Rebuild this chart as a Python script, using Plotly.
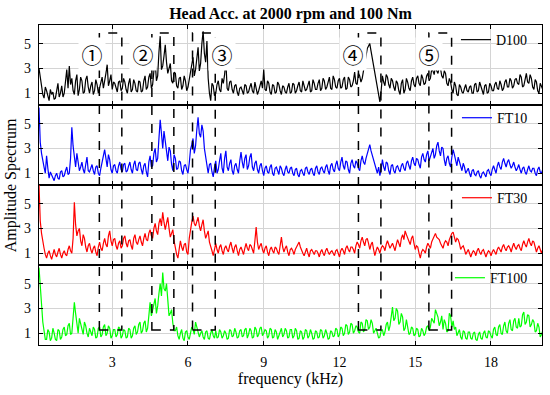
import plotly.graph_objects as go
from plotly.subplots import make_subplots

# frequency grid (kHz), 0.05 kHz sampling of the read-off spectra
freq_khz = [round(0.05 * k, 2) for k in range(2, 402)]

# values read at 0.1, 0.2, ... kHz
d100 = [
    3.0, 1.8, 0.6, 1.2, 0.4, 0.9, 0.5, 1.4, 0.7, 1.6,
    1.0, 2.9, 3.2, 2.2, 0.9, 2.5, 1.3, 2.0, 1.1, 2.4,
    1.0, 1.9, 1.2, 1.7, 1.4, 2.3, 1.9, 3.3, 2.0, 1.3,
    1.8, 1.1, 2.0, 1.4, 1.9, 1.0, 2.2, 1.3, 1.8, 1.1,
    1.9, 1.2, 2.4, 1.5, 2.6, 1.7, 3.6, 2.4, 5.6, 3.2,
    4.9, 2.6, 3.4, 1.8, 2.6, 1.4, 2.3, 1.6, 2.0, 1.5,
    2.8, 3.9, 2.9, 4.7, 3.4, 6.0, 3.5, 2.2, 0.4, 1.6,
    1.0, 2.0, 1.1, 1.8, 3.6, 1.2, 2.0, 1.0, 1.7, 0.8,
    1.5, 0.9, 1.6, 1.1, 1.8, 1.0, 1.5, 1.2, 2.0, 2.9,
    1.2, 1.8, 0.9, 1.6, 1.1, 1.7, 0.9, 1.5, 1.0, 1.8,
    1.1, 1.7, 1.2, 1.9, 1.1, 1.6, 1.3, 2.0, 1.2, 1.8,
    1.3, 2.1, 1.4, 2.0, 1.5, 2.3, 1.3, 2.1, 1.4, 2.2,
    1.5, 2.3, 1.4, 2.1, 1.6, 2.7, 1.7, 2.4, 2.2, 3.5,
    4.6, 5.0, 3.8, 2.6, 1.5, 0.3, 2.4, 1.6, 2.3, 1.4,
    2.0, 1.2, 1.8, 0.9, 2.1, 1.3, 1.9, 1.2, 2.3, 1.5,
    2.4, 1.6, 2.2, 1.8, 2.6, 2.2, 2.8, 3.2, 2.6, 3.0,
    2.2, 2.6, 1.6, 1.9, 1.0, 1.6, 0.8, 1.5, 1.0, 1.7,
    1.1, 1.6, 1.0, 1.8, 1.2, 1.5, 0.9, 1.7, 1.1, 1.6,
    1.2, 1.9, 1.3, 1.7, 1.4, 2.1, 1.5, 2.0, 1.6, 2.2,
    1.7, 2.3, 1.6, 2.6, 1.8, 2.2, 1.3, 1.9, 1.0, 1.6,
]
# values read at 0.15, 0.25, ... kHz
d100_mid = [
    2.2, 0.9, 1.5, 0.7, 1.3, 1.1, 0.6, 1.8, 1.0, 0.7,
    2.0, 1.4, 1.7, 1.2, 2.0, 0.8, 2.3, 1.0, 2.1, 1.5,
    1.6, 0.9, 2.1, 1.0, 1.7, 1.4, 2.6, 1.6, 2.5, 1.9,
    1.3, 1.9, 1.2, 2.2, 1.3, 1.8, 1.1, 2.1, 1.2, 2.0,
    1.1, 2.0, 1.3, 2.3, 1.4, 2.8, 2.0, 4.3, 2.9, 4.0,
    3.5, 3.0, 2.0, 2.7, 1.6, 2.2, 1.3, 2.4, 1.2, 2.1,
    3.6, 2.4, 3.8, 2.8, 5.0, 4.2, 5.2, 1.0, 1.8, 0.8,
    1.7, 1.3, 2.2, 2.5, 1.4, 1.9, 1.3, 1.6, 1.1, 1.4,
    1.2, 1.7, 1.0, 1.5, 1.2, 1.9, 0.9, 1.7, 1.4, 1.3,
    2.0, 1.1, 1.7, 1.0, 1.9, 1.2, 1.6, 1.1, 1.5, 1.0,
    1.8, 1.0, 1.6, 1.2, 2.0, 1.2, 1.7, 1.1, 2.1, 1.3,
    1.8, 1.2, 2.2, 1.3, 1.9, 1.4, 2.4, 1.5, 2.0, 1.4,
    2.1, 1.3, 2.3, 1.5, 2.0, 1.8, 2.6, 1.9, 2.8, 4.0,
    4.8, 4.4, 3.2, 2.0, 0.8, 1.2, 1.9, 2.5, 1.7, 2.2,
    1.5, 2.0, 1.2, 1.8, 1.0, 2.2, 1.4, 2.0, 1.7, 2.2,
    1.8, 2.5, 1.7, 2.4, 2.0, 2.9, 2.5, 2.8, 3.1, 2.4,
    2.8, 1.8, 2.2, 1.3, 1.9, 0.9, 1.7, 1.1, 1.4, 1.2,
    1.5, 1.0, 1.7, 1.1, 1.9, 1.1, 1.6, 1.0, 1.8, 1.2,
    1.7, 1.4, 2.0, 1.2, 1.9, 1.5, 2.2, 1.4, 2.1, 1.8,
    2.5, 1.5, 2.1, 1.9, 2.5, 1.5, 2.1, 1.2, 1.8, 1.3,
]

ft10 = [
    6.3, 2.6, 1.5, 2.4, 0.6, 0.9, 0.4, 1.0, 0.5, 1.2,
    0.8, 1.5, 1.0, 4.7, 2.2, 2.6, 1.2, 1.9, 1.0, 2.3,
    1.1, 1.7, 0.9, 1.6, 0.8, 1.9, 2.9, 1.5, 2.1, 1.0,
    1.7, 1.0, 1.9, 1.1, 1.8, 1.2, 1.9, 1.0, 2.0, 1.2,
    1.9, 0.9, 1.8, 0.7, 2.4, 1.6, 3.0, 2.2, 5.3, 3.0,
    3.6, 2.0, 2.8, 1.2, 2.2, 1.4, 1.9, 0.9, 1.7, 1.0,
    2.9, 3.8, 3.2, 5.5, 3.9, 4.4, 2.2, 1.0, 1.8, 0.7,
    2.0, 1.3, 2.6, 1.0, 2.8, 1.2, 2.1, 0.9, 1.8, 1.0,
    2.7, 1.4, 2.5, 1.6, 2.6, 1.2, 2.0, 1.0, 1.8, 0.8,
    1.6, 1.0, 1.7, 0.8, 1.5, 0.9, 1.4, 0.8, 1.6, 1.0,
    1.5, 0.8, 1.4, 0.7, 1.3, 0.8, 1.5, 0.9, 1.4, 0.8,
    1.6, 0.9, 1.5, 1.0, 1.7, 0.9, 1.8, 1.1, 2.0, 1.2,
    2.3, 1.3, 1.9, 1.0, 2.1, 1.4, 1.8, 1.2, 2.4, 1.7,
    2.6, 3.3, 2.4, 1.6, 1.0, 0.8, 2.1, 1.2, 1.8, 0.9,
    1.7, 1.0, 1.6, 1.1, 1.8, 1.2, 2.0, 1.3, 2.3, 1.6,
    2.1, 1.4, 2.6, 1.9, 2.8, 2.3, 3.0, 2.5, 3.5, 2.4,
    3.0, 1.6, 2.4, 1.5, 2.9, 2.0, 2.3, 1.4, 1.8, 1.0,
    1.4, 0.7, 1.3, 0.8, 1.2, 0.6, 1.1, 0.7, 1.3, 0.8,
    1.6, 1.0, 1.9, 1.3, 2.2, 1.5, 2.1, 1.4, 1.9, 1.2,
    1.7, 1.0, 1.5, 0.9, 1.6, 1.1, 1.4, 0.8, 1.5, 1.0,
]
ft10_mid = [
    3.5, 1.9, 1.0, 1.4, 1.1, 0.6, 0.8, 0.6, 1.1, 0.7,
    1.2, 0.9, 2.2, 3.2, 1.5, 1.8, 1.5, 1.3, 1.7, 1.2,
    1.4, 1.2, 1.5, 1.0, 1.4, 2.2, 2.2, 2.5, 1.3, 1.6,
    1.2, 1.6, 1.3, 1.7, 1.1, 1.6, 1.3, 1.7, 1.3, 1.8,
    1.3, 1.6, 1.1, 1.9, 1.5, 2.6, 1.9, 3.8, 4.2, 4.4,
    2.5, 3.1, 1.7, 2.5, 1.3, 2.0, 1.2, 1.6, 1.3, 1.8,
    3.3, 2.6, 4.5, 4.2, 4.9, 3.0, 1.4, 1.7, 1.1, 1.5,
    1.0, 2.0, 1.4, 2.2, 1.5, 1.8, 1.2, 1.6, 1.3, 2.0,
    1.9, 2.2, 1.3, 2.3, 1.5, 1.8, 1.3, 1.6, 1.2, 1.4,
    1.1, 1.5, 1.0, 1.4, 1.2, 1.6, 1.0, 1.3, 1.1, 1.4,
    1.0, 1.3, 0.9, 1.2, 1.0, 1.4, 1.1, 1.3, 1.0, 1.4,
    1.1, 1.4, 1.2, 1.5, 1.2, 1.6, 1.3, 1.7, 1.4, 1.9,
    1.6, 2.0, 1.3, 1.8, 1.6, 2.0, 1.4, 2.0, 1.9, 2.2,
    3.0, 2.8, 2.0, 1.2, 1.5, 1.3, 1.5, 1.9, 1.2, 1.6,
    1.2, 1.5, 1.3, 1.6, 1.4, 1.8, 1.6, 2.0, 1.8, 2.2,
    1.7, 2.3, 2.1, 2.5, 2.0, 2.7, 2.2, 3.2, 2.8, 3.1,
    2.1, 2.2, 1.8, 2.3, 2.5, 1.6, 1.9, 1.2, 1.5, 1.2,
    1.0, 1.2, 0.9, 1.1, 0.8, 1.0, 0.9, 1.2, 1.0, 1.3,
    1.3, 1.6, 1.5, 1.9, 1.8, 1.9, 1.7, 1.6, 1.5, 1.4,
    1.3, 1.4, 1.1, 1.3, 1.2, 1.4, 1.0, 1.3, 1.1, 1.3,
]

ft30 = [
    6.5, 2.6, 1.4, 0.6, 1.2, 0.5, 1.3, 0.7, 1.4, 0.6,
    1.2, 0.8, 1.6, 1.0, 5.1, 2.4, 3.0, 1.6, 2.2, 1.1,
    1.8, 1.0, 1.6, 0.8, 1.9, 1.2, 2.2, 1.5, 2.8, 1.6,
    2.2, 1.3, 2.0, 1.6, 2.4, 1.5, 2.1, 1.3, 2.5, 1.7,
    2.4, 1.6, 2.6, 2.0, 2.9, 2.2, 3.4, 2.5, 3.8, 4.3,
    2.9, 3.9, 2.3, 2.9, 1.4, 0.6, 2.0, 1.2, 1.8, 0.9,
    3.0, 4.0, 3.2, 3.9, 2.8, 3.7, 2.2, 2.8, 1.4, 0.8,
    1.8, 1.0, 1.7, 0.9, 1.6, 1.1, 1.9, 1.0, 1.7, 0.8,
    1.5, 0.9, 1.8, 1.2, 1.6, 1.0, 3.1, 1.3, 1.8, 1.0,
    1.6, 0.8, 1.5, 1.0, 1.4, 0.9, 2.3, 1.1, 1.6, 0.8,
    1.4, 0.9, 1.5, 1.9, 1.2, 0.8, 1.4, 0.7, 1.3, 0.9,
    1.2, 0.7, 1.3, 0.8, 1.4, 0.9, 1.2, 0.8, 1.3, 0.7,
    1.4, 0.9, 1.6, 1.1, 1.5, 1.0, 1.9, 1.4, 2.3, 1.6,
    2.2, 1.3, 1.9, 0.8, 1.5, 1.0, 1.6, 1.2, 2.0, 1.4,
    1.8, 1.2, 2.1, 1.5, 2.5, 2.8, 2.2, 1.7, 2.4, 1.3,
    1.5, 0.6, 1.3, 1.0, 1.8, 1.4, 2.1, 2.6, 2.2, 1.8,
    1.4, 2.0, 1.6, 2.4, 2.7, 1.9, 2.1, 1.3, 1.6, 0.9,
    1.3, 0.7, 1.2, 0.8, 1.4, 0.9, 1.3, 0.7, 1.2, 0.8,
    1.3, 0.9, 1.5, 1.1, 1.7, 1.2, 1.6, 1.1, 1.8, 1.3,
    1.7, 1.2, 2.0, 1.5, 2.2, 1.6, 1.9, 1.1, 1.6, 1.0,
]
ft30_mid = [
    3.6, 1.8, 0.9, 1.0, 0.8, 0.9, 0.9, 1.1, 0.9, 1.0,
    0.9, 1.3, 1.2, 2.2, 3.3, 2.8, 2.0, 2.5, 1.5, 1.6,
    1.3, 1.4, 1.1, 1.5, 1.4, 1.8, 1.7, 2.4, 2.0, 2.1,
    1.6, 1.8, 1.4, 2.2, 1.8, 2.0, 1.6, 2.2, 1.9, 2.1,
    1.9, 2.2, 2.1, 2.6, 2.4, 3.0, 2.8, 3.4, 3.2, 3.5,
    3.4, 3.0, 2.6, 2.0, 0.9, 1.4, 1.5, 1.7, 1.1, 2.2,
    3.5, 3.4, 3.6, 3.2, 3.3, 2.8, 2.5, 1.9, 1.2, 1.4,
    1.3, 1.5, 1.2, 1.4, 1.3, 1.6, 1.4, 1.5, 1.2, 1.3,
    1.2, 1.4, 1.4, 1.7, 1.3, 2.0, 1.9, 1.6, 1.3, 1.4,
    1.1, 1.3, 1.2, 1.5, 1.1, 1.6, 1.5, 1.4, 1.1, 1.3,
    1.2, 1.3, 1.6, 1.5, 1.0, 1.2, 1.0, 1.2, 1.1, 1.2,
    1.0, 1.1, 1.0, 1.2, 1.1, 1.1, 1.0, 1.2, 1.0, 1.2,
    1.2, 1.4, 1.3, 1.5, 1.3, 1.6, 1.7, 2.0, 1.9, 2.1,
    1.8, 1.7, 1.3, 1.2, 1.3, 1.4, 1.5, 1.7, 1.7, 1.6,
    1.5, 1.7, 1.8, 2.2, 2.1, 2.5, 1.9, 2.2, 1.8, 1.6,
    1.0, 1.1, 1.2, 1.5, 1.6, 1.9, 2.4, 2.3, 2.1, 1.6,
    1.8, 1.9, 2.1, 2.6, 2.3, 2.2, 1.8, 1.5, 1.3, 1.1,
    1.0, 1.0, 1.1, 1.2, 1.1, 1.2, 1.0, 1.0, 1.1, 1.1,
    1.1, 1.3, 1.3, 1.5, 1.4, 1.5, 1.4, 1.5, 1.5, 1.6,
    1.4, 1.7, 1.7, 1.9, 1.8, 2.0, 1.5, 1.4, 1.3, 1.3,
]

ft100 = [
    6.3, 3.0, 1.2, 0.5, 1.1, 0.6, 1.0, 0.4, 1.2, 0.7,
    1.5, 0.9, 1.8, 1.0, 3.5, 1.6, 2.2, 1.2, 1.9, 1.0,
    1.4, 0.8, 1.3, 0.7, 1.5, 0.9, 1.7, 1.0, 1.4, 0.8,
    1.3, 0.9, 1.4, 0.8, 1.2, 0.7, 1.3, 0.8, 1.6, 1.1,
    1.9, 1.2, 2.0, 1.4, 3.5, 2.8, 3.8, 3.2, 5.0, 5.9,
    4.4, 3.4, 2.6, 1.8, 1.2, 0.8, 1.0, 0.6, 1.1, 0.7,
    1.0, 1.3, 1.9, 1.2, 1.0, 0.7, 1.1, 0.6, 1.0, 0.8,
    1.2, 0.7, 1.1, 0.8, 1.0, 0.6, 1.2, 0.8, 1.1, 0.7,
    1.3, 0.8, 1.4, 0.9, 1.2, 0.7, 1.3, 0.9, 1.5, 1.0,
    1.2, 0.8, 1.3, 0.7, 1.1, 0.8, 1.4, 0.9, 1.2, 0.7,
    1.3, 0.8, 1.2, 0.6, 1.1, 0.7, 1.2, 0.8, 1.0, 0.6,
    1.1, 0.7, 1.2, 0.8, 1.0, 0.6, 1.1, 0.8, 1.3, 0.9,
    1.4, 1.0, 1.6, 1.1, 1.7, 1.2, 1.5, 1.0, 1.8, 1.3,
    2.0, 1.5, 1.8, 1.2, 1.0, 0.7, 1.3, 1.1, 1.9, 1.6,
    3.1, 2.2, 2.8, 1.9, 2.3, 1.4, 1.6, 1.0, 1.4, 0.9,
    1.3, 0.8, 1.2, 1.0, 1.6, 1.5, 2.0, 2.9, 2.3, 1.9,
    1.3, 1.8, 1.2, 2.4, 2.0, 1.5, 1.1, 0.7, 1.2, 0.6,
    1.1, 0.6, 1.0, 0.5, 0.9, 0.6, 1.0, 0.7, 1.2, 0.8,
    1.3, 0.9, 1.5, 1.0, 1.6, 1.2, 1.8, 1.3, 2.0, 1.5,
    2.2, 1.6, 2.7, 1.9, 2.4, 1.7, 1.9, 1.2, 1.5, 0.9,
]
ft100_mid = [
    4.6, 1.9, 0.5, 1.3, 0.4, 1.4, 0.5, 1.3, 0.5, 1.3,
    0.8, 1.6, 0.9, 2.4, 2.6, 1.0, 1.8, 0.9, 1.6, 0.7,
    1.0, 1.5, 0.6, 1.4, 0.7, 1.5, 0.8, 1.6, 0.6, 1.3,
    0.7, 1.5, 0.6, 1.3, 0.6, 1.4, 0.6, 1.4, 0.9, 1.7,
    1.0, 1.8, 1.1, 2.4, 2.4, 3.4, 2.6, 4.2, 4.0, 4.6,
    5.0, 2.4, 2.9, 1.2, 1.5, 0.5, 1.3, 0.4, 1.2, 0.5,
    1.5, 0.9, 1.4, 0.7, 1.2, 0.5, 1.2, 0.5, 1.3, 0.6,
    0.6, 1.3, 0.6, 1.2, 0.5, 1.3, 0.7, 1.4, 0.6, 1.2,
    0.7, 1.3, 0.6, 1.4, 0.6, 1.5, 0.7, 1.4, 0.8, 1.3,
    0.6, 1.4, 0.6, 1.3, 0.5, 1.2, 0.7, 1.4, 0.6, 1.3,
    0.6, 1.4, 0.5, 1.2, 0.5, 1.3, 0.6, 1.3, 0.5, 1.2,
    0.6, 1.3, 0.6, 1.3, 0.5, 1.2, 0.7, 1.4, 0.7, 1.5,
    0.8, 1.7, 0.9, 1.8, 1.0, 1.6, 1.1, 1.9, 1.1, 2.1,
    1.3, 2.1, 1.0, 1.4, 0.6, 1.2, 0.8, 1.7, 1.2, 2.6,
    2.0, 3.0, 1.7, 2.6, 1.2, 2.1, 0.9, 1.5, 0.8, 1.4,
    0.7, 1.4, 0.8, 1.5, 1.2, 2.2, 1.8, 2.6, 1.6, 2.4,
    2.1, 1.1, 2.6, 1.5, 1.3, 0.8, 1.3, 0.5, 1.1, 0.5,
    1.1, 0.5, 1.1, 0.4, 1.1, 0.5, 1.2, 0.6, 1.1, 0.6,
    1.5, 0.8, 1.7, 0.9, 1.9, 1.0, 2.1, 1.2, 2.2, 1.4,
    1.5, 2.5, 1.7, 2.5, 1.5, 2.1, 1.1, 1.8, 0.7, 1.2,
]

series_names = ["D100", "FT10", "FT30", "FT100"]
series_colors = ["#000000", "#0000FF", "#FF0000", "#00FF00"]
series_main = [d100, ft10, ft30, ft100]
series_mid = [d100_mid, ft10_mid, ft30_mid, ft100_mid]

# dashed regions (kHz) and their labels
region_labels = ["①", "②", "③", "④", "⑤"]
region_start = [2.49, 4.57, 6.18, 12.75, 15.54]
region_end = [3.38, 5.44, 7.08, 13.64, 16.44]
label_pos = [2.20, 4.23, 7.34, 12.55, 15.54]

x_ticks = [3, 6, 9, 12, 15, 18]
y_ticks = [1, 3, 5]

FONT = "Liberation Serif, Times New Roman, serif"
CIRC_FONT = "Noto Sans CJK JP, DejaVu Sans, sans-serif"


def interleave(a, b):
    out = []
    for p, q in zip(a, b):
        out.extend([p, q])
    return out


fig = make_subplots(rows=4, cols=1, shared_xaxes=True, vertical_spacing=0)

legend_y = [0.953, 0.709, 0.459, 0.209]
for i, (name, col) in enumerate(zip(series_names, series_colors)):
    lg = "legend" if i == 0 else f"legend{i+1}"
    vals = interleave(series_main[i], series_mid[i])
    fig.add_trace(
        go.Scatter(x=freq_khz, y=vals, mode="lines", name=name,
                   line=dict(color=col, width=1.2), legend=lg),
        row=i + 1, col=1,
    )
    fig.update_layout({
        lg: dict(x=0.982, y=legend_y[i], xanchor="right", yanchor="middle",
                 bgcolor="rgba(0,0,0,0)", itemwidth=30,
                 font=dict(family=FONT, size=14, color="black"),
                 tracegroupgap=0)
    })

axis_common = dict(showline=True, linecolor="black", linewidth=1.2, mirror="ticks",
                   ticks="inside", ticklen=4, tickcolor="black", tickwidth=1,
                   showgrid=True, gridcolor="#d4d4d4", gridwidth=1, zeroline=False,
                   ticklabelstandoff=4,
                   tickfont=dict(family=FONT, size=14, color="black"))

for r in range(1, 5):
    fig.update_xaxes(range=[0.1, 20.02], tickvals=x_ticks, row=r, col=1, **axis_common)
    fig.update_yaxes(range=[0.05, 6.5], tickvals=y_ticks, row=r, col=1, **axis_common)

fig.update_xaxes(title=dict(text="frequency (kHz)", font=dict(family=FONT, size=16, color="black"),
                            standoff=2), row=4, col=1)

shapes = []
for a, b in zip(region_start, region_end):
    shapes.append(dict(type="rect", xref="x", yref="paper", x0=a, x1=b, y0=0.047, y1=0.975,
                       line=dict(color="black", width=1.5, dash="dash"), layer="above"))

annotations = []
for lab, xp in zip(region_labels, label_pos):
    annotations.append(dict(text=lab, x=xp, y=0.963, xref="x", yref="paper",
                            showarrow=False, bgcolor="white", width=24, height=30,
                            font=dict(family=CIRC_FONT, size=21, color="black")))
annotations.append(dict(text="Amplitude Spectrum", textangle=-90, x=-0.055, y=0.5,
                        xref="paper", yref="paper", showarrow=False, xanchor="center",
                        yanchor="middle", font=dict(family=FONT, size=16, color="black")))

fig.update_layout(
    width=550, height=395,
    margin=dict(l=39, r=8, t=25, b=50),
    paper_bgcolor="white", plot_bgcolor="white",
    title=dict(text="<b>Head Acc. at 2000 rpm and 100 Nm</b>", xref="paper", x=0.5,
               xanchor="center", y=0.967, yanchor="middle",
               font=dict(family=FONT, size=16, color="black")),
    shapes=shapes, annotations=annotations,
    showlegend=True,
)

fig.write_html("out.html", config={"displayModeBar": False},
               post_script="document.body.style.margin='0';")
